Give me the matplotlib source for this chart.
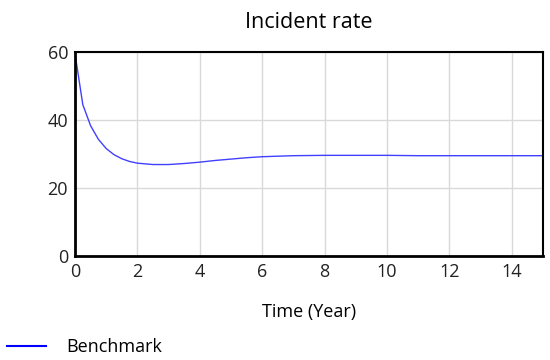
import matplotlib
matplotlib.use('Agg')
import matplotlib.pyplot as plt

plt.rcParams['font.family'] = ['Open Sans', 'DejaVu Sans']

# simulated incident rate
time_year = [0, 0.25, 0.5, 0.75, 1.0, 1.25, 1.5, 1.75, 2.0, 2.5, 3.0, 3.5, 4.0,
             4.5, 5.0, 5.5, 6.0, 7.0, 8.0, 9.0, 10.0, 11.0, 12.0, 13.0, 14.0, 15.0]
benchmark = [59.5, 44.5, 38.3, 34.3, 31.6, 29.8, 28.6, 27.8, 27.3, 26.9, 26.9, 27.2, 27.6,
             28.1, 28.5, 28.9, 29.2, 29.5, 29.6, 29.6, 29.6, 29.5, 29.5, 29.5, 29.5, 29.5]

fig = plt.figure(figsize=(5.5, 3.6), dpi=100)
ax = fig.add_axes([0.1364, 0.2889, 0.8506, 0.5667])

line, = ax.plot(time_year, benchmark, color='#4040ff', lw=1.0, label='Benchmark')

ax.set_xlim(0, 15)
ax.set_ylim(0, 60)
ax.set_xticks(range(0, 15, 2))
ax.set_yticks([0, 20, 40, 60])
ax.grid(True, color='#d9d9d9', lw=1)
ax.tick_params(length=0, labelsize=13, labelcolor='#222222', pad=5)
for side in ['left', 'bottom']:
    ax.spines[side].set_linewidth(2)
for side in ['top', 'right']:
    ax.spines[side].set_linewidth(1.5)

ax.set_title('Incident rate', fontsize=15.5, pad=17)
ax.set_xlabel('Time (Year)', fontsize=13, labelpad=16)

leg = fig.legend(handles=[line], loc='lower left', bbox_to_anchor=(0.012, 0.01),
                 frameon=False, fontsize=13, handlelength=2.2, handletextpad=1.1,
                 borderpad=0, borderaxespad=0)
leg.get_lines()[0].set_color('#0000ff')
leg.get_lines()[0].set_linewidth(1.5)

fig.savefig('out.png', dpi=100)
